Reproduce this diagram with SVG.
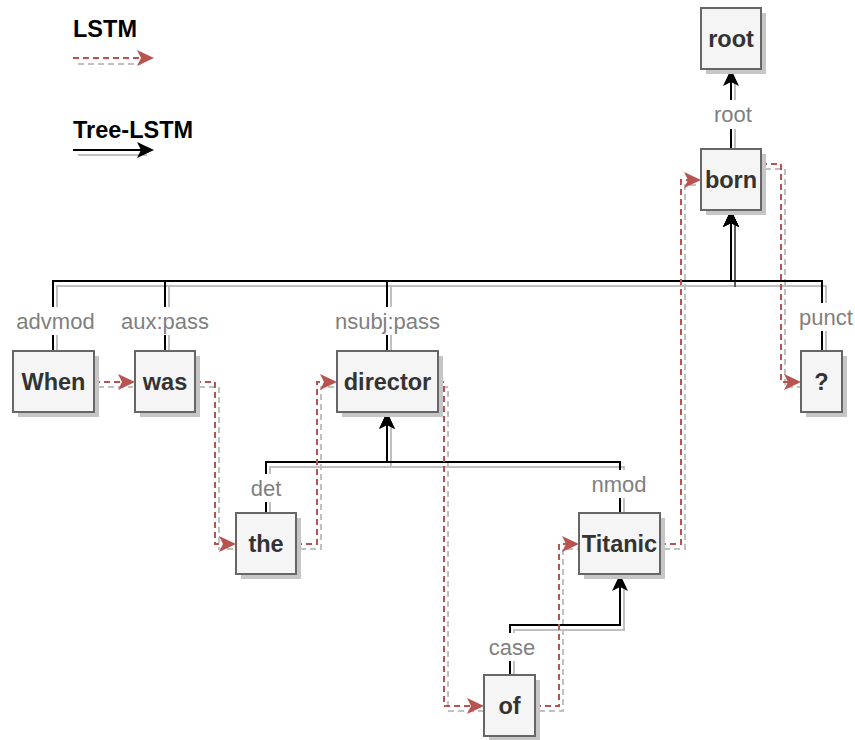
<svg xmlns="http://www.w3.org/2000/svg" width="855" height="740" viewBox="0 0 855 740">
<style>
.sh{fill:#c6c6c6}
.box{fill:#f5f5f5;stroke:#666;stroke-width:2}
.nt{font-family:"Liberation Sans",Arial,sans-serif;font-weight:bold;font-size:23.5px;fill:#333;text-anchor:middle}
.tree{fill:none;stroke:#000;stroke-width:2}
.tsh{fill:none;stroke:#c0c0c0;stroke-width:2}
.tshd{fill:none;stroke:#5a5a5a;stroke-width:2}
.lstm{fill:none;stroke:#b85450;stroke-width:2;stroke-dasharray:6 4}
.lsh{fill:none;stroke:#c0c0c0;stroke-width:2;stroke-dasharray:6 4}
.lbl{font-family:"Liberation Sans",Arial,sans-serif;font-size:22px;fill:#808080;text-anchor:middle}
.lbg{fill:#fff}
.leg{font-family:"Liberation Sans",Arial,sans-serif;font-weight:bold;font-size:23.5px;fill:#000}
</style>
<defs>
<marker id="ab" markerUnits="userSpaceOnUse" markerWidth="20" markerHeight="20" viewBox="0 -10 20 20" refX="5" refY="0" orient="auto"><path d="M17,0 L0,-8 L4,0 L0,8 Z" fill="#000"/></marker>
<marker id="ar" markerUnits="userSpaceOnUse" markerWidth="20" markerHeight="20" viewBox="0 -10 20 20" refX="5" refY="0" orient="auto"><path d="M17,0 L0,-8 L4,0 L0,8 Z" fill="#b85450"/></marker>
</defs>

<g id="legend">
<text class="leg" x="73" y="37">LSTM</text>
<path class="lsh" d="M78,64 H141"/>
<path class="lstm" d="M73,58 H142" marker-end="url(#ar)"/>
<text class="leg" x="73" y="138">Tree-LSTM</text>
<path class="tsh" d="M78,155 H147"/>
<path class="tree" d="M73,150 H142" marker-end="url(#ab)"/>
</g>

<g id="connectors">
<!-- shadows -->
<path class="tsh" d="M735,154 V80"/>
<path class="tsh" d="M57,356 V286 H735"/>
<path class="tsh" d="M169,356 V286"/>
<path class="tsh" d="M391,356 V286"/>
<path class="tsh" d="M826,356 V286 H735"/>
<path class="tshd" d="M735,287 V222"/>
<path class="tsh" d="M270,518 V467 H624 V518"/>
<path class="tsh" d="M391,467 V422"/>
<path class="tsh" d="M514,680 V630 H624 V586"/>
<path class="lsh" d="M98,387 H133"/>
<path class="lsh" d="M199,387 H219 V549 H240"/>
<path class="lsh" d="M300,549 H321 V387 H341"/>
<path class="lsh" d="M442,387 H448 V711 H488"/>
<path class="lsh" d="M539,711 H563 V549 H583"/>
<path class="lsh" d="M664,549 H685 V185 H705"/>
<path class="lsh" d="M765,169 H785 V387 H805"/>
<!-- tree edges -->
<path class="tree" d="M731,149 V81" marker-end="url(#ab)"/>
<path class="tree" d="M53,351 V281 H731 V222" marker-end="url(#ab)"/>
<path class="tree" d="M165,351 V281 H731 V222" marker-end="url(#ab)"/>
<path class="tree" d="M387,351 V281 H731 V222" marker-end="url(#ab)"/>
<path class="tree" d="M822,351 V281 H731 V222" marker-end="url(#ab)"/>
<path class="tree" d="M266,513 V462 H387 V424" marker-end="url(#ab)"/>
<path class="tree" d="M620,513 V462 H387 V424" marker-end="url(#ab)"/>
<path class="tree" d="M510,675 V625 H620 V586" marker-end="url(#ab)"/>
<!-- LSTM edges -->
<path class="lstm" d="M94,382 H123" marker-end="url(#ar)"/>
<path class="lstm" d="M195,382 H215 V544 H224" marker-end="url(#ar)"/>
<path class="lstm" d="M296,544 H317 V382 H325" marker-end="url(#ar)"/>
<path class="lstm" d="M438,382 H444 V706 H472" marker-end="url(#ar)"/>
<path class="lstm" d="M535,706 H559 V544 H567" marker-end="url(#ar)"/>
<path class="lstm" d="M660,544 H681 V180 H689" marker-end="url(#ar)"/>
<path class="lstm" d="M761,164 H781 V382 H789" marker-end="url(#ar)"/>
<!-- labels -->
<rect class="lbg" x="713" y="100" width="40" height="29"/>
<text class="lbl" x="733" y="122">root</text>
<rect class="lbg" x="16" y="307" width="79" height="28"/>
<text class="lbl" x="55.5" y="329">advmod</text>
<rect class="lbg" x="120" y="307" width="90" height="28"/>
<text class="lbl" x="165" y="329">aux:pass</text>
<rect class="lbg" x="334" y="307" width="107" height="28"/>
<text class="lbl" x="387.5" y="329">nsubj:pass</text>
<rect class="lbg" x="798" y="303" width="56" height="28"/>
<text class="lbl" x="826" y="325">punct</text>
<rect class="lbg" x="250" y="474" width="32" height="28"/>
<text class="lbl" x="266" y="496">det</text>
<rect class="lbg" x="591" y="470" width="56" height="28"/>
<text class="lbl" x="619" y="492">nmod</text>
<rect class="lbg" x="488" y="633" width="48" height="28"/>
<text class="lbl" x="512" y="655">case</text>
</g>

<g id="node-root"><rect class="sh" x="706" y="13" width="60" height="61"/><rect class="box" x="701" y="8" width="60" height="61"/><text class="nt" x="731" y="47">root</text></g>
<g id="node-born"><rect class="sh" x="706" y="154" width="60" height="61"/><rect class="box" x="701" y="149" width="60" height="61"/><text class="nt" x="731" y="188">born</text></g>
<g id="node-when"><rect class="sh" x="18" y="356" width="81" height="61"/><rect class="box" x="13" y="351" width="81" height="61"/><text class="nt" x="53.5" y="390">When</text></g>
<g id="node-was"><rect class="sh" x="140" y="356" width="60" height="61"/><rect class="box" x="135" y="351" width="60" height="61"/><text class="nt" x="165" y="390">was</text></g>
<g id="node-director"><rect class="sh" x="342" y="356" width="101" height="61"/><rect class="box" x="337" y="351" width="101" height="61"/><text class="nt" x="387.5" y="390">director</text></g>
<g id="node-punct"><rect class="sh" x="806" y="356" width="41" height="61"/><rect class="box" x="801" y="351" width="41" height="61"/><text class="nt" x="821.5" y="390">?</text></g>
<g id="node-the"><rect class="sh" x="241" y="518" width="60" height="61"/><rect class="box" x="236" y="513" width="60" height="61"/><text class="nt" x="266" y="552">the</text></g>
<g id="node-titanic"><rect class="sh" x="584" y="518" width="81" height="61"/><rect class="box" x="579" y="513" width="81" height="61"/><text class="nt" x="619.5" y="552">Titanic</text></g>
<g id="node-of"><rect class="sh" x="489" y="680" width="51" height="61"/><rect class="box" x="484" y="675" width="51" height="61"/><text class="nt" x="509.5" y="714">of</text></g>
</svg>
